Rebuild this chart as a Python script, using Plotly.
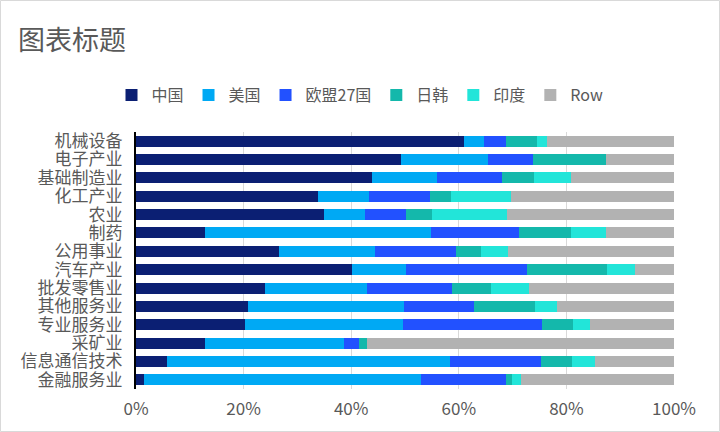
import plotly.graph_objects as go

# categories, top to bottom
categories = ['机械设备', '电子产业', '基础制造业', '化工产业', '农业', '制药', '公用事业',
              '汽车产业', '批发零售业', '其他服务业', '专业服务业', '采矿业', '信息通信技术', '金融服务业']

# share of each region (%)
china = [60.9, 49.2, 43.9, 33.9, 35.0, 12.9, 26.5, 40.1, 23.9, 20.9, 20.2, 12.9, 5.7, 1.4]
usa = [3.8, 16.3, 12.1, 9.5, 7.5, 42.0, 18.0, 10.0, 19.0, 29.0, 29.5, 25.7, 52.6, 51.5]
eu27 = [4.0, 8.2, 12.1, 11.3, 7.6, 16.2, 14.9, 22.5, 15.9, 13.0, 25.8, 2.9, 16.9, 15.8]
japan_korea = [5.9, 13.6, 5.8, 3.8, 5.0, 9.7, 4.8, 15.0, 7.1, 11.2, 5.8, 1.4, 5.8, 1.2]
india = [1.8, 0.0, 7.0, 11.2, 13.8, 6.5, 5.0, 5.1, 7.2, 4.1, 3.0, 0.0, 4.3, 1.7]
row = [23.6, 12.7, 19.1, 30.3, 31.1, 12.7, 30.8, 7.3, 26.9, 21.8, 15.7, 57.1, 14.7, 28.4]

series = [
    ('中国', china, '#0B1F73'),
    ('美国', usa, '#00A9F4'),
    ('欧盟27国', eu27, '#2251FF'),
    ('日韩', japan_korea, '#14B8AB'),
    ('印度', india, '#22E5D9'),
    ('Row', row, '#B2B2B2'),
]

fig = go.Figure()
for name, vals, color in series:
    fig.add_trace(go.Bar(
        y=categories,
        x=vals,
        name=name,
        orientation='h',
        marker=dict(color=color, line=dict(width=0)),
    ))

font_family = 'Noto Sans CJK SC, Liberation Sans, sans-serif'
grey = '#595959'

fig.update_layout(
    barmode='stack',
    barnorm='percent',
    bargap=0.4,
    width=720,
    height=432,
    margin=dict(l=136, r=46, t=132, b=43),
    plot_bgcolor='white',
    paper_bgcolor='white',
    font=dict(family=font_family, color=grey),
    title=dict(text='图表标题', x=18 / 720, xanchor='left', y=1 - 41 / 432, yanchor='middle',
               font=dict(size=27, color=grey)),
    legend=dict(orientation='h', xref='container', x=0.5, xanchor='center',
                yref='container', y=1 - 95 / 432, yanchor='middle',
                font=dict(size=16, color=grey), traceorder='normal',
                itemwidth=30),
    showlegend=True,
)

fig.update_xaxes(
    range=[0, 100],
    tickvals=[0, 20, 40, 60, 80, 100],
    ticktext=['0%', '20%', '40%', '60%', '80%', '100%'],
    showgrid=True,
    gridcolor='#D9D9D9',
    zeroline=False,
    showline=False,
    tickfont=dict(size=17, color=grey),
    ticklabelstandoff=8,
)
fig.update_yaxes(
    autorange='reversed',
    tickmode='array',
    tickvals=categories,
    ticktext=categories,
    showline=True,
    linecolor='black',
    linewidth=2,
    showgrid=False,
    tickfont=dict(size=17, color=grey),
    ticklabelstandoff=8,
)

# thin outer border of the chart area
pw, ph = 720 - 136 - 46, 432 - 132 - 43
fig.add_shape(type='rect', xref='paper', yref='paper',
              x0=-135.5 / pw, x1=1 + 45.5 / pw, y0=-42.5 / ph, y1=1 + 131.5 / ph,
              line=dict(color='#D9D9D9', width=1), layer='below')

# drop the browser's default body margin so the figure sits at the page corner
fig.write_html('out.html', config={'displayModeBar': False},
               post_script="document.body.style.margin='0';")
